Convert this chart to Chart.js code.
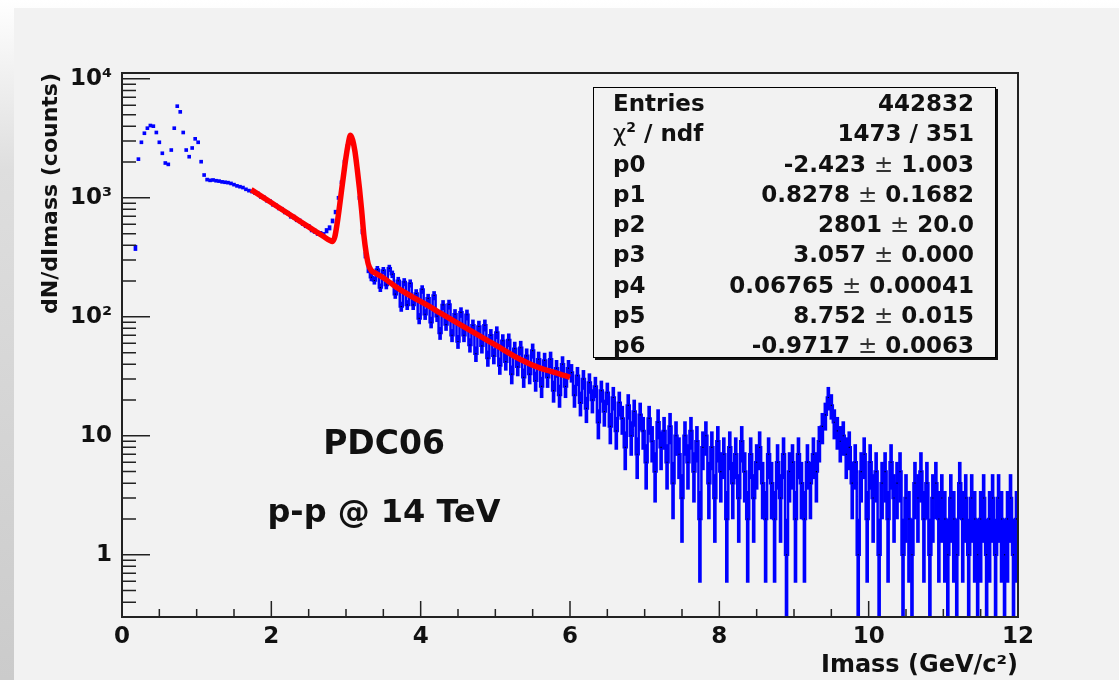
<!DOCTYPE html>
<html>
<head>
<meta charset="utf-8">
<title>PDC06 dimuon invariant mass</title>
<script src="https://cdn.jsdelivr.net/npm/chart.js@4.4.1/dist/chart.umd.min.js"></script>
<style>
  html, body { margin: 0; padding: 0; }
  body {
    width: 1119px; height: 680px; position: relative; overflow: hidden;
    background: linear-gradient(to bottom, #ffffff 0%, #dedede 25%, #cbcbcb 100%);
    font-family: "DejaVu Sans", sans-serif; font-weight: bold; color: #111;
  }
  #pad { position: absolute; left: 14px; top: 8px; right: 0; bottom: 0; background: #f2f2f2; }
  #wrap { position: absolute; left: 0; top: 0; width: 1119px; height: 680px; }
  .note { position: absolute; transform: translate(-50%, -50%); line-height: 1; white-space: nowrap; }
  #stats {
    position: absolute; left: 593px; top: 87px; width: 403px; height: 271px;
    box-sizing: border-box; border: 1px solid #000; box-shadow: 2px 2px 0 #111;
    background: #f2f2f2; font-size: 23px;
  }
  #stats .row { display: flex; justify-content: space-between; height: 30.25px; line-height: 30.25px; padding: 0 21px 0 19px; }
  #stats .pm { font-weight: normal; color: #333; }
  #stats sup { font-size: 14px; line-height: 0; }
  #stats .chi { font-weight: normal; }
</style>
</head>
<body>
<div id="pad"></div>
<div id="wrap"><canvas id="massChart"></canvas></div>
<div class="note" style="left:384px; top:442px; font-size:33px;">PDC06</div>
<div class="note" style="left:384px; top:511px; font-size:32px;">p-p @ 14 TeV</div>
<div id="stats"></div>

<script>
/* =========================
   DATA – histogram (0.04 GeV bins from 0 to 12) + fit curve
========================= */
const binWidth = 0.04;

const counts = [
  0, 0, 0, 0,
  380, 2100, 2900, 3450, 3800, 4000, 3950, 3500, 2900, 2350,
  1950, 1900, 2500, 3800, 5800, 5200, 3500, 2500, 2200, 2600,
  3100, 2900, 2000, 1550, 1420, 1400, 1410, 1390, 1380, 1360,
  1350, 1340, 1320, 1290, 1260, 1240, 1220, 1180, 1150, 1130,
  1100, 1090, 1020, 1010, 950, 940, 880, 865, 820, 805,
  760, 745, 700, 690, 655, 640, 610, 585, 575, 540,
  525, 505, 500, 490, 530, 560, 640, 760, 1000, 1350,
  2000, 2700, 3300, 2800, 2000, 1000, 520, 330, 250, 215,
  202, 250, 176, 245, 185, 256, 228, 155, 201, 122,
  196, 126, 191, 126, 157, 97, 170, 105, 143, 90,
  151, 101, 73, 126, 86, 127, 70, 105, 62, 109,
  70, 104, 58, 85, 49, 83, 57, 85, 45, 70,
  47, 74, 39, 63, 42, 64, 33, 54, 38, 55,
  31, 47, 33, 52, 29, 44, 26, 43, 31, 44,
  24, 37, 22, 40, 26, 37, 34, 22, 32, 19,
  30, 17, 28, 20, 26, 13, 24, 16, 23, 12,
  21, 11, 19, 14, 8, 18, 10, 16, 7, 15,
  11, 6, 14, 9, 5, 13, 8, 11, 6, 12,
  4, 10, 7, 3, 10, 6, 11, 5, 9, 2,
  8, 10, 4, 8, 3, 9, 5, 7, 2, 8,
  4, 7, 3, 9, 5, 2, 7, 3, 6, 8,
  4, 2, 7, 4, 2, 6, 3, 7, 1, 5,
  6, 2, 7, 4, 2, 6, 4, 7, 5, 9,
  12, 15, 21, 18, 13, 11, 9, 10, 7, 8,
  4, 6, 1, 5, 7, 2, 6, 3, 5, 1,
  4, 5, 2, 6, 3, 4, 5, 1, 3, 2,
  1, 4, 3, 5, 2, 4, 1, 3, 4, 2,
  3, 2, 1, 3, 2, 1, 4, 2, 3, 1,
  3, 2, 1, 2, 3, 1, 2, 3, 1, 3,
  2, 1, 2, 3, 1, 2
];

const fitMass = [
  1.73, 1.9, 2.1, 2.3, 2.5, 2.7, 2.78, 2.82, 2.85, 2.88, 2.91, 2.94, 2.97,
  3.0, 3.03, 3.06, 3.09, 3.12, 3.15, 3.18, 3.21, 3.24, 3.27, 3.3, 3.34,
  3.4, 3.5, 3.6, 3.72, 3.9, 4.1, 4.26, 4.5, 4.79, 5.0, 5.33, 5.6, 5.8, 6.0
];
const fitValues = [
  1172, 1000, 830, 688, 570, 473, 440, 430, 470, 600, 820, 1150, 1600,
  2200, 2850, 3350, 3050, 2450, 1750, 1200, 780, 480, 345, 275, 245,
  232, 213, 192, 170, 146, 124, 108, 88, 69, 58, 44, 37, 34, 31
];

const xMajorTicks = [0, 2, 4, 6, 8, 10, 12];
const xTickLabels = ["0", "2", "4", "6", "8", "10", "12"];
const yDecades = [1, 10, 100, 1000, 10000];
const yDecadeLabels = ["1", "10", "10²", "10³", "10⁴"];

const xTitle = "Imass (GeV/c²)";
const yTitle = "dN/dImass (counts)";

const statsRows = [
  ["Entries", "442832"],
  ["χ² / ndf", "1473 / 351"],
  ["p0", "-2.423 ± 1.003"],
  ["p1", "0.8278 ± 0.1682"],
  ["p2", "2801 ± 20.0"],
  ["p3", "3.057 ± 0.000"],
  ["p4", "0.06765 ± 0.00041"],
  ["p5", "8.752 ± 0.015"],
  ["p6", "-0.9717 ± 0.0063"]
];

const yMin = 0.31;
const yMax = 11200;

/* =========================
   STATS BOX
========================= */
const statsBox = document.getElementById("stats");
statsRows.forEach(([name, value]) => {
  const row = document.createElement("div");
  row.className = "row";
  const left = document.createElement("span");
  if (name.startsWith("χ²")) {
    left.innerHTML = '<span class="chi">χ</span><sup>2</sup> / ndf';
  } else {
    left.textContent = name;
  }
  const right = document.createElement("span");
  right.innerHTML = value.replace("±", '<span class="pm">±</span>');
  row.appendChild(left);
  row.appendChild(right);
  statsBox.appendChild(row);
});

/* =========================
   CHART
========================= */
const isDecade = (v) => Math.abs(Math.log10(v) - Math.round(Math.log10(v))) < 1e-9;

// error bars: Poisson sqrt(N) around each bin content
// (lower edge below the axis minimum just runs to the frame, like ROOT)
const histBars = [];
const binDots = [];
const binSteps = [];
counts.forEach((n, i) => {
  if (n <= 0) return;
  const centre = (i + 0.5) * binWidth;
  const err = Math.sqrt(n);
  histBars.push({ x: centre, y: [Math.max(n - err, yMin / 2), n + err] });
  if (centre > 3.3) {
    binDots.push({ x: centre, y: n });
    binSteps.push({ x: centre, y: n });
  }
});

const fitPoints = fitMass.map((m, i) => ({ x: m, y: fitValues[i] }));

const rootFrame = {
  id: "rootFrame",
  afterDatasetsDraw(chart) {
    const { ctx, chartArea: a, scales: { x, y } } = chart;
    ctx.save();
    ctx.strokeStyle = "#222";
    ctx.lineWidth = 1.5;
    ctx.beginPath();
    x.ticks.forEach((t) => {
      const px = x.getPixelForValue(t.value);
      const len = xMajorTicks.includes(t.value) ? 16 : 8;
      ctx.moveTo(px, a.bottom);
      ctx.lineTo(px, a.bottom - len);
    });
    y.ticks.forEach((t) => {
      const py = y.getPixelForValue(t.value);
      const len = isDecade(t.value) ? 28 : 14;
      ctx.moveTo(a.left, py);
      ctx.lineTo(a.left + len, py);
    });
    ctx.stroke();
    ctx.lineWidth = 2;
    ctx.strokeRect(a.left, a.top, a.right - a.left, a.bottom - a.top);
    ctx.restore();
  }
};

const tickFont = { family: "DejaVu Sans", size: 23, weight: "bold" };

const massCtx = document.getElementById("massChart");

if (massCtx) {
  new Chart(massCtx, {
    type: "bar",
    data: {
      datasets: [
        {
          type: "line",
          data: fitPoints,
          borderColor: "#ff0000",
          borderWidth: 5.5,
          pointRadius: 0,
          cubicInterpolationMode: "monotone",
          fill: false,
          order: 1
        },
        {
          type: "scatter",
          data: binDots,
          pointStyle: "rect",
          pointRadius: 0.8,
          backgroundColor: "#000",
          borderWidth: 0,
          clip: 0,
          order: 2
        },
        {
          type: "line",
          data: binSteps,
          stepped: "middle",
          borderColor: "#0000ff",
          borderWidth: 2.5,
          pointRadius: 0,
          fill: false,
          clip: 0,
          order: 3
        },
        {
          type: "bar",
          data: histBars,
          backgroundColor: "#0000ff",
          borderWidth: 0,
          barPercentage: 1,
          categoryPercentage: 1,
          minBarLength: 3,
          clip: 0,
          order: 4
        }
      ]
    },
    options: {
      responsive: true,
      maintainAspectRatio: false,
      animation: false,
      layout: { padding: { left: 0, right: 101, top: 73, bottom: 0 } },
      plugins: {
        legend: { display: false },
        tooltip: { enabled: false }
      },
      scales: {
        x: {
          type: "linear",
          min: 0,
          max: 12,
          offset: false,
          grid: { display: false, drawTicks: false },
          border: { display: false },
          ticks: {
            stepSize: 0.5,
            autoSkip: false,
            maxRotation: 0,
            padding: 6,
            color: "#111",
            font: tickFont,
            callback: (v) => {
              const k = xMajorTicks.indexOf(v);
              return k >= 0 ? xTickLabels[k] : "";
            }
          },
          title: {
            display: true,
            text: xTitle,
            align: "end",
            color: "#111",
            font: { family: "DejaVu Sans", size: 24, weight: "bold" },
            padding: { top: 0, bottom: 0 }
          },
          afterFit: (s) => { s.height = 63; }
        },
        y: {
          type: "logarithmic",
          min: yMin,
          max: yMax,
          grid: { display: false, drawTicks: false },
          border: { display: false },
          afterBuildTicks: (s) => {
            const ticks = [];
            [0.1, 1, 10, 100, 1000, 10000].forEach((d) => {
              for (let m = 1; m <= 9; m++) {
                const v = m * d;
                if (v >= s.min && v <= s.max) ticks.push({ value: v });
              }
            });
            s.ticks = ticks;
          },
          ticks: {
            autoSkip: false,
            padding: 10,
            color: "#111",
            font: tickFont,
            callback: (v) => {
              if (!isDecade(v)) return "";
              const k = yDecades.findIndex((d) => Math.abs(d - v) / d < 1e-6);
              return k >= 0 ? yDecadeLabels[k] : "";
            }
          },
          title: {
            display: true,
            text: yTitle,
            align: "end",
            color: "#111",
            font: { family: "DejaVu Sans", size: 22, weight: "bold" },
            padding: { top: 38, bottom: 0 }
          },
          afterFit: (s) => { s.width = 122; }
        }
      }
    },
    plugins: [rootFrame]
  });
}
</script>
</body>
</html>
